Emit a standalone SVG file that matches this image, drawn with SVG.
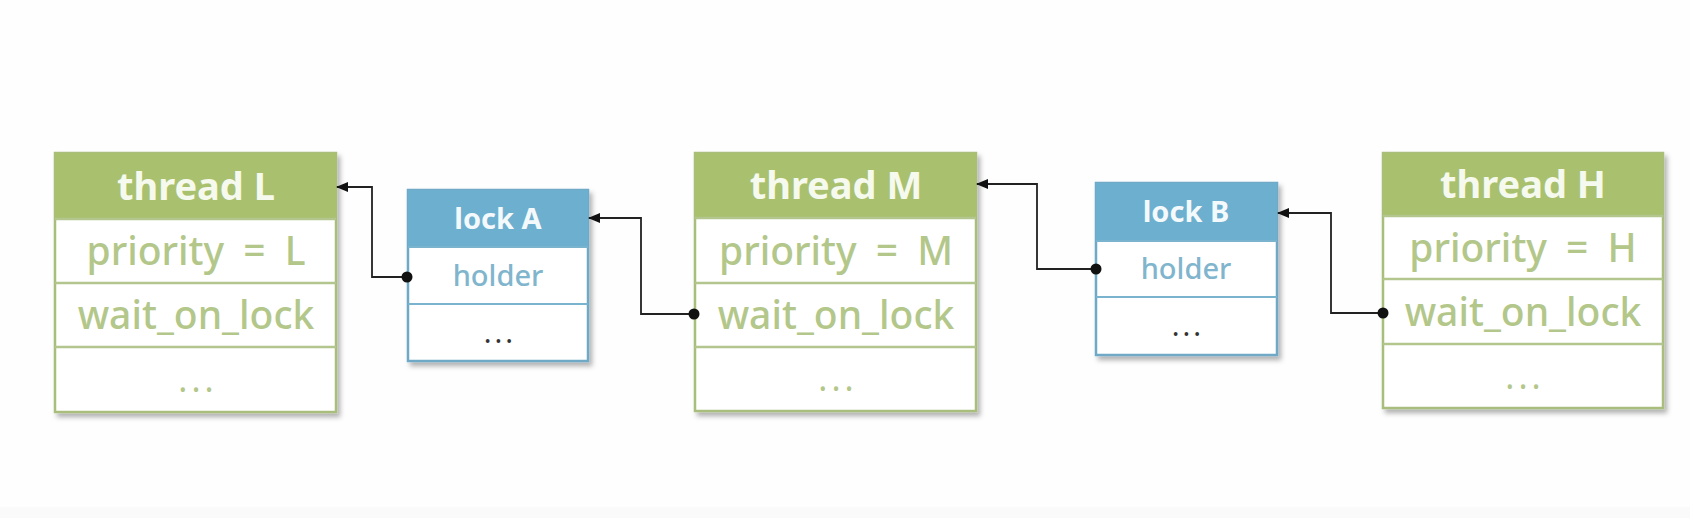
<svg xmlns="http://www.w3.org/2000/svg" width="1690" height="518" viewBox="0 0 1690 518">
<style>
.bg{fill:#fefefe}
.tbox{fill:#ffffff;stroke:#a9bd7c;stroke-width:2.5}
.thead{fill:#a9c16e}
.tline{stroke:#b3c68e;stroke-width:2.5}
.lbox{fill:#ffffff;stroke:#6fa9c5;stroke-width:2.5}
.lhead{fill:#6cafcf}
.lline{stroke:#7ab3cd;stroke-width:2}
.th{font-family:"Noto Sans","DejaVu Sans",sans-serif;font-weight:bold;font-size:38px;fill:#f6f9ee;text-anchor:middle}
.tt{font-family:"Noto Sans","DejaVu Sans",sans-serif;font-weight:500;font-size:39px;word-spacing:9px;fill:#b3c78a;text-anchor:middle}
.td{font-family:"Noto Sans","DejaVu Sans",sans-serif;font-size:34px;letter-spacing:4px;fill:#b3c78a;text-anchor:middle}
.lh{font-family:"Noto Sans","DejaVu Sans",sans-serif;font-weight:bold;font-size:29px;fill:#f4f9fc;text-anchor:middle}
.lt{font-family:"Noto Sans","DejaVu Sans",sans-serif;font-weight:500;font-size:29px;fill:#80b5cd;text-anchor:middle}
.ld{font-family:"Noto Sans","DejaVu Sans",sans-serif;font-size:29px;letter-spacing:3px;fill:#333;text-anchor:middle}
.conn{fill:none;stroke:#222;stroke-width:1.8}
.dot{fill:#111}
</style>
<defs>
<filter id="sh" x="-10%" y="-10%" width="125%" height="125%">
<feDropShadow dx="3" dy="4" stdDeviation="2.5" flood-color="#000" flood-opacity="0.3"/>
</filter>
<marker id="arr" viewBox="0 0 12 10" refX="11" refY="5" markerWidth="12" markerHeight="10" markerUnits="userSpaceOnUse" orient="auto">
<path d="M0,0 L12,5 L0,10 Z" fill="#111"/>
</marker>
</defs>
<rect class="bg" x="0" y="0" width="1690" height="518"/>
<rect x="0" y="507" width="1690" height="11" fill="#fafafa"/>

<g id="threadL">
<rect class="tbox" x="55" y="153" width="281" height="259" filter="url(#sh)"/>
<rect class="thead" x="55" y="153" width="281" height="66"/>
<line class="tline" x1="55" y1="219" x2="336" y2="219"/>
<line class="tline" x1="55" y1="283" x2="336" y2="283"/>
<line class="tline" x1="55" y1="347" x2="336" y2="347"/>
<text class="th" x="196" y="200">thread L</text>
<text class="tt" x="196" y="265">priority = L</text>
<text class="tt" x="196" y="329">wait_on_lock</text>
<text class="td" x="198" y="392">...</text>
</g>

<g id="lockA">
<rect class="lbox" x="408" y="190" width="180" height="171" filter="url(#sh)"/>
<rect class="lhead" x="408" y="190" width="180" height="57"/>
<line class="lline" x1="408" y1="247" x2="588" y2="247"/>
<line class="lline" x1="408" y1="304" x2="588" y2="304"/>
<text class="lh" x="498" y="229">lock A</text>
<text class="lt" x="498" y="286">holder</text>
<text class="ld" x="500" y="343">...</text>
</g>

<g id="threadM">
<rect class="tbox" x="695" y="153" width="281" height="258" filter="url(#sh)"/>
<rect class="thead" x="695" y="153" width="281" height="65"/>
<line class="tline" x1="695" y1="218" x2="976" y2="218"/>
<line class="tline" x1="695" y1="283" x2="976" y2="283"/>
<line class="tline" x1="695" y1="347" x2="976" y2="347"/>
<text class="th" x="836" y="199">thread M</text>
<text class="tt" x="836" y="265">priority = M</text>
<text class="tt" x="836" y="329">wait_on_lock</text>
<text class="td" x="838" y="391">...</text>
</g>

<g id="lockB">
<rect class="lbox" x="1096" y="183" width="181" height="172" filter="url(#sh)"/>
<rect class="lhead" x="1096" y="183" width="181" height="58"/>
<line class="lline" x1="1096" y1="241" x2="1277" y2="241"/>
<line class="lline" x1="1096" y1="297" x2="1277" y2="297"/>
<text class="lh" x="1186" y="222">lock B</text>
<text class="lt" x="1186" y="279">holder</text>
<text class="ld" x="1188" y="336">...</text>
</g>

<g id="threadH">
<rect class="tbox" x="1383" y="153" width="280" height="255" filter="url(#sh)"/>
<rect class="thead" x="1383" y="153" width="280" height="63"/>
<line class="tline" x1="1383" y1="216" x2="1663" y2="216"/>
<line class="tline" x1="1383" y1="279" x2="1663" y2="279"/>
<line class="tline" x1="1383" y1="344" x2="1663" y2="344"/>
<text class="th" x="1523" y="198">thread H</text>
<text class="tt" x="1523" y="262">priority = H</text>
<text class="tt" x="1523" y="326">wait_on_lock</text>
<text class="td" x="1525" y="389">...</text>
</g>

<g id="connectors">
<path class="conn" d="M407,277 H372 V187 H337" marker-end="url(#arr)"/>
<circle class="dot" cx="407" cy="277" r="5.5"/>
<path class="conn" d="M694,314 H641 V218 H589" marker-end="url(#arr)"/>
<circle class="dot" cx="694" cy="314" r="5.5"/>
<path class="conn" d="M1096,269 H1037 V184 H977" marker-end="url(#arr)"/>
<circle class="dot" cx="1096" cy="269" r="5.5"/>
<path class="conn" d="M1383,313 H1331 V213 H1278" marker-end="url(#arr)"/>
<circle class="dot" cx="1383" cy="313" r="5.5"/>
</g>
</svg>
